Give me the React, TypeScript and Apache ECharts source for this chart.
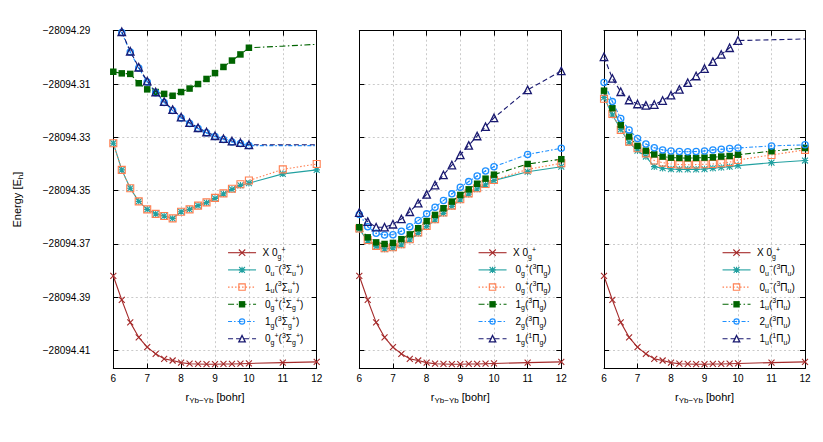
import React, { useEffect, useRef } from 'react';
import * as echarts from 'echarts';

// ---------------- data ----------------
const R_BOHR = [6, 6.25, 6.5, 6.75, 7, 7.25, 7.5, 7.75, 8, 8.25, 8.5, 8.75, 9, 9.25, 9.5, 9.75, 10, 11, 12];
const X_MIN = 6;
const X_MAX = 12;
const X_STEP = 1;
const E_TOP = -28094.29;
const E_BOTTOM = -28094.4167;
const E_STEP = 0.02;
const E_REF = -28094;

// ground state, shown in all three panels
const X_0g = [-28094.3820, -28094.3910, -28094.3994, -28094.4050, -28094.4087, -28094.4112, -28094.4131, -28094.4137, -28094.4145, -28094.4149, -28094.4150, -28094.4151, -28094.4151, -28094.4150, -28094.4150, -28094.4149, -28094.4148, -28094.4145, -28094.4142];

// panel 1 : Sigma states
const S_0u_3Su = [-28094.3322, -28094.3422, -28094.3491, -28094.3540, -28094.3570, -28094.3587, -28094.3595, -28094.3604, -28094.3579, -28094.3570, -28094.3556, -28094.3545, -28094.3529, -28094.3512, -28094.3495, -28094.3480, -28094.3472, -28094.3437, -28094.3422];
const S_1u_3Su = [-28094.3322, -28094.3422, -28094.3491, -28094.3540, -28094.3570, -28094.3587, -28094.3595, -28094.3604, -28094.3579, -28094.3570, -28094.3556, -28094.3544, -28094.3527, -28094.3510, -28094.3493, -28094.3476, -28094.3462, -28094.3420, -28094.3400];
const S_0g_1Sg = [-28094.3054, -28094.3060, -28094.3062, -28094.3097, -28094.3120, -28094.3130, -28094.3137, -28094.3144, -28094.3130, -28094.3117, -28094.3100, -28094.3081, -28094.3059, -28094.3036, -28094.3012, -28094.2989, -28094.2964, -28094.2958, -28094.2951];
const S_1g_3Sg = [null, -28094.2907, -28094.2980, -28094.3040, -28094.3092, -28094.3133, -28094.3169, -28094.3199, -28094.3227, -28094.3248, -28094.3267, -28094.3283, -28094.3297, -28094.3308, -28094.3317, -28094.3323, -28094.3331, -28094.3331, -28094.3331];
const S_0g_3Sg = [null, -28094.2904, -28094.2977, -28094.3037, -28094.3089, -28094.3130, -28094.3166, -28094.3196, -28094.3224, -28094.3245, -28094.3264, -28094.3280, -28094.3294, -28094.3305, -28094.3314, -28094.3320, -28094.3328, -28094.3328, -28094.3328];

// panel 2 : Pi_g states
const G_0g_3Pg_a = [-28094.3645, -28094.3688, -28094.3710, -28094.3719, -28094.3715, -28094.3704, -28094.3685, -28094.3660, -28094.3635, -28094.3610, -28094.3585, -28094.3559, -28094.3535, -28094.3513, -28094.3494, -28094.3478, -28094.3462, -28094.3429, -28094.3410];
const G_0g_3Pg_b = [-28094.3642, -28094.3685, -28094.3707, -28094.3716, -28094.3712, -28094.3701, -28094.3682, -28094.3657, -28094.3632, -28094.3607, -28094.3582, -28094.3556, -28094.3532, -28094.3510, -28094.3491, -28094.3475, -28094.3460, -28094.3420, -28094.3397];
const G_1g_3Pg = [-28094.3637, -28094.3675, -28094.3694, -28094.3700, -28094.3696, -28094.3682, -28094.3664, -28094.3641, -28094.3614, -28094.3591, -28094.3566, -28094.3541, -28094.3516, -28094.3495, -28094.3474, -28094.3455, -28094.3440, -28094.3400, -28094.3382];
const G_2g_3Pg = [-28094.3589, -28094.3635, -28094.3660, -28094.3666, -28094.3665, -28094.3652, -28094.3635, -28094.3612, -28094.3587, -28094.3562, -28094.3537, -28094.3512, -28094.3487, -28094.3466, -28094.3445, -28094.3426, -28094.3410, -28094.3364, -28094.3341];
const G_1g_1Pg = [-28094.3582, -28094.3616, -28094.3637, -28094.3637, -28094.3626, -28094.3606, -28094.3579, -28094.3547, -28094.3514, -28094.3479, -28094.3441, -28094.3404, -28094.3366, -28094.3330, -28094.3295, -28094.3260, -28094.3227, -28094.3122, -28094.3051];

// panel 3 : Pi_u states
const U_0u_3Pu_a = [-28094.3150, -28094.3216, -28094.3270, -28094.3320, -28094.3350, -28094.3372, -28094.3410, -28094.3416, -28094.3419, -28094.3420, -28094.3420, -28094.3420, -28094.3419, -28094.3416, -28094.3413, -28094.3410, -28094.3406, -28094.3395, -28094.3387];
const U_0u_3Pu_b = [-28094.3155, -28094.3212, -28094.3272, -28094.3316, -28094.3341, -28094.3360, -28094.3387, -28094.3395, -28094.3400, -28094.3402, -28094.3403, -28094.3402, -28094.3401, -28094.3400, -28094.3397, -28094.3393, -28094.3385, -28094.3366, -28094.3347];
const U_1u_3Pu = [-28094.3125, -28094.3191, -28094.3254, -28094.3297, -28094.3332, -28094.3350, -28094.3364, -28094.3372, -28094.3376, -28094.3377, -28094.3378, -28094.3377, -28094.3376, -28094.3375, -28094.3372, -28094.3370, -28094.3365, -28094.3352, -28094.3340];
const U_2u_3Pu = [-28094.3094, -28094.3166, -28094.3229, -28094.3272, -28094.3304, -28094.3325, -28094.3339, -28094.3347, -28094.3351, -28094.3353, -28094.3354, -28094.3353, -28094.3351, -28094.3347, -28094.3345, -28094.3342, -28094.3340, -28094.3332, -28094.3328];
const U_1u_1Pu = [-28094.2998, -28094.3079, -28094.3129, -28094.3160, -28094.3175, -28094.3180, -28094.3177, -28094.3162, -28094.3142, -28094.3120, -28094.3095, -28094.3070, -28094.3042, -28094.3016, -28094.2989, -28094.2964, -28094.2937, -28094.2934, -28094.2931];

// number of leading points drawn with markers (rest drawn as plain line)
const MARKED_UNTIL_10 = 17;

// ---------------- styles ----------------
const FONT = "'Liberation Sans', Arial, Helvetica, sans-serif";
const RED = '#a52a2a';
const TEAL = '#21a0a0';
const CORAL = '#ff7f50';
const GREEN = '#006400';
const BLUE = '#1e90ff';
const NAVY = '#191970';
const LINE_W = 1.1;

const CROSS = 'path://M0,0L10,10M10,0L0,10';
const STAR = 'path://M0,0L10,10M10,0L0,10M5,-0.5L5,10.5M-0.5,5L10.5,5';
const CIRCLE_DOT = 'path://M10,5A5,5,0,1,1,0,5A5,5,0,1,1,10,5ZM8.3,5A3.3,3.3,0,1,0,1.7,5A3.3,3.3,0,1,0,8.3,5ZM6.1,5A1.1,1.1,0,1,1,3.9,5A1.1,1.1,0,1,1,6.1,5Z';

const STY: Record<string, any> = {
  X: { color: RED, fill: RED, symbol: CROSS, size: 6, dash: 'solid', bw: 1.1 },
  A: { color: TEAL, fill: TEAL, symbol: STAR, size: 6.5, dash: 'solid', bw: 1.1 },
  B: { color: CORAL, fill: 'rgba(0,0,0,0)', symbol: 'rect', size: 7, dash: [1.5, 2], bw: 1.1 },
  C: { color: GREEN, fill: GREEN, symbol: 'rect', size: 6.5, dash: [6, 2.5, 1.5, 2.5], bw: 0 },
  D: { color: BLUE, fill: BLUE, symbol: CIRCLE_DOT, size: 7.5, dash: [4, 2, 1.5, 2], bw: 0 },
  E: { color: NAVY, fill: 'rgba(0,0,0,0)', symbol: 'triangle', size: 7.5, dash: [5, 3], bw: 1.3 },
};

const n = (t: string) => `{n|${t}}`;
const b = (t: string) => `{b|${t}}`;
const p = (t: string) => `{p|${t}}`;
const SP = '{s| }';
const SP1 = '{s1| }';

const L_X = SP1 + n('X 0') + b('g') + p('+');
const state = (o: string, os: string, osp: string, m: string, L: string, ls: string, lsp: string) =>
  SP + n(o) + b(os) + (osp ? p(osp) : '') + n('(') + p(m) + n(L) + b(ls) + (lsp ? p(lsp) : '') + n(')');

const PANELS = [
  {
    series: [
      { id: 'p1x', data: X_0g, sty: 'X', label: L_X },
      { id: 'p1a', data: S_0u_3Su, sty: 'A', label: state('0', 'u', '−', '3', 'Σ', 'u', '+') },
      { id: 'p1b', data: S_1u_3Su, sty: 'B', label: state('1', 'u', '', '3', 'Σ', 'u', '+') },
      { id: 'p1c', data: S_0g_1Sg, sty: 'C', label: state('0', 'g', '+', '1', 'Σ', 'g', '+'), marked: MARKED_UNTIL_10 },
      { id: 'p1d', data: S_1g_3Sg, sty: 'D', label: state('1', 'g', '', '3', 'Σ', 'g', '+'), marked: MARKED_UNTIL_10 },
      { id: 'p1e', data: S_0g_3Sg, sty: 'E', label: state('0', 'g', '+', '3', 'Σ', 'g', '+'), marked: MARKED_UNTIL_10 },
    ],
  },
  {
    series: [
      { id: 'p2x', data: X_0g, sty: 'X', label: L_X },
      { id: 'p2a', data: G_0g_3Pg_a, sty: 'A', label: state('0', 'g', '+', '3', 'Π', 'g', '') },
      { id: 'p2b', data: G_0g_3Pg_b, sty: 'B', label: state('0', 'g', '+', '3', 'Π', 'g', '') },
      { id: 'p2c', data: G_1g_3Pg, sty: 'C', label: state('1', 'g', '', '3', 'Π', 'g', '') },
      { id: 'p2d', data: G_2g_3Pg, sty: 'D', label: state('2', 'g', '', '3', 'Π', 'g', '') },
      { id: 'p2e', data: G_1g_1Pg, sty: 'E', label: state('1', 'g', '', '1', 'Π', 'g', '') },
    ],
  },
  {
    series: [
      { id: 'p3x', data: X_0g, sty: 'X', label: L_X },
      { id: 'p3a', data: U_0u_3Pu_a, sty: 'A', label: state('0', 'u', '−', '3', 'Π', 'u', '') },
      { id: 'p3b', data: U_0u_3Pu_b, sty: 'B', label: state('0', 'u', '−', '3', 'Π', 'u', '') },
      { id: 'p3c', data: U_1u_3Pu, sty: 'C', label: state('1', 'u', '', '3', 'Π', 'u', '') },
      { id: 'p3d', data: U_2u_3Pu, sty: 'D', label: state('2', 'u', '', '3', 'Π', 'u', '') },
      { id: 'p3e', data: U_1u_1Pu, sty: 'E', label: state('1', 'u', '', '1', 'Π', 'u', ''), marked: MARKED_UNTIL_10 },
    ],
  },
];

// layout
const GRID_TOP = 30.7;
const GRID_H = 337.8;
const GRIDS = [
  { left: 113.3, width: 203.4, legendLeft: 227.5 },
  { left: 359.3, width: 202, legendLeft: 478 },
  { left: 604, width: 201, legendLeft: 722 },
];
const LEGEND_TOP = 245.7;

const toY = (e: number) => Math.round(-(e - E_REF) * 1e6) / 1e6;
const fmtE = (v: number) => '−' + Math.abs(E_REF - v).toFixed(2);

const RICH = {
  n: { fontSize: 10, lineHeight: 14, fontFamily: FONT, color: '#000' },
  b: { fontSize: 7, lineHeight: 7, verticalAlign: 'bottom', fontFamily: FONT, color: '#000' },
  p: { fontSize: 7, lineHeight: 7, verticalAlign: 'top', fontFamily: FONT, color: '#000' },
  s: { width: 4, fontSize: 10, lineHeight: 14 },
  s1: { width: 1.5, fontSize: 10, lineHeight: 14 },
};
const TITLE_RICH = {
  n: { fontSize: 11, lineHeight: 15, fontFamily: FONT, fill: '#000' },
  b: { fontSize: 8, lineHeight: 8, verticalAlign: 'bottom', fontFamily: FONT, fill: '#000' },
};

function buildOption() {
  const yMin = toY(E_TOP);
  const yMax = toY(E_BOTTOM);
  const grid: any[] = [];
  const xAxis: any[] = [];
  const yAxis: any[] = [];
  const series: any[] = [];
  const legend: any[] = [];
  const graphic: any[] = [];
  const axisLine = { show: true, onZero: false, lineStyle: { color: '#000', width: 1 } };
  const axisTick = { show: true, inside: true, length: 5, lineStyle: { color: '#000', width: 1 } };
  const splitLine = { show: true, lineStyle: { color: '#bdbdbd', width: 0.8, type: [2, 2.5] } };

  GRIDS.forEach((g, gi) => {
    grid.push({ left: g.left, top: GRID_TOP, width: g.width, height: GRID_H });
    xAxis.push({
      gridIndex: gi, type: 'value', min: X_MIN, max: X_MAX, interval: X_STEP, position: 'bottom',
      axisLine, axisTick,
      axisLabel: { show: true, margin: 5, fontSize: 10, color: '#000', fontFamily: FONT },
      splitLine,
    });
    xAxis.push({
      gridIndex: gi, type: 'value', min: X_MIN, max: X_MAX, interval: X_STEP, position: 'top',
      axisLine, axisTick, axisLabel: { show: false }, splitLine: { show: false },
    });
    yAxis.push({
      gridIndex: gi, type: 'value', min: yMin, max: yMax, interval: E_STEP, inverse: true, position: 'left',
      axisLine, axisTick,
      axisLabel: {
        show: gi === 0, margin: 23, fontSize: 10, color: '#000', fontFamily: FONT,
        showMaxLabel: false, showMinLabel: true, formatter: (v: number) => fmtE(v),
      },
      splitLine,
    });
    yAxis.push({
      gridIndex: gi, type: 'value', min: yMin, max: yMax, interval: E_STEP, inverse: true, position: 'right',
      axisLine, axisTick, axisLabel: { show: false }, splitLine: { show: false },
    });

    const panel = PANELS[gi];
    const labelMap: Record<string, string> = {};
    const legendData: any[] = [];
    panel.series.forEach((s: any) => {
      const st = STY[s.sty];
      const data: any[] = [];
      R_BOHR.forEach((r, i) => {
        const e = s.data[i];
        if (e == null) return;
        const item: any = { value: [r, toY(e)] };
        if (s.marked != null && i >= s.marked) item.symbol = 'none';
        data.push(item);
      });
      series.push({
        type: 'line', name: s.id, xAxisIndex: gi * 2, yAxisIndex: gi * 2, data,
        symbol: st.symbol, symbolSize: st.size, showAllSymbol: true, silent: true,
        itemStyle: { color: st.fill, borderColor: st.color, borderWidth: st.bw },
        lineStyle: { color: st.color, width: LINE_W, type: st.dash },
        emphasis: { disabled: true },
      });
      labelMap[s.id] = s.label;
      legendData.push({
        name: s.id,
        itemStyle: { color: st.fill, borderColor: st.color, borderWidth: st.bw },
        lineStyle: { color: st.color, width: LINE_W, type: st.dash },
      });
    });
    legend.push({
      show: true, orient: 'vertical', left: g.legendLeft, top: LEGEND_TOP, padding: 0,
      itemWidth: 28, itemHeight: 8, itemGap: 3.2, selectedMode: false,
      data: legendData,
      formatter: (name: string) => labelMap[name],
      textStyle: { fontSize: 10, color: '#000', fontFamily: FONT, rich: RICH },
    });

    graphic.push({
      type: 'text', x: g.left + g.width / 2, y: 396.5, silent: true,
      style: {
        text: '{n|r}{b|Yb−Yb}{n| [bohr]}', rich: TITLE_RICH, fill: '#000',
        align: 'center', verticalAlign: 'middle', fontFamily: FONT, fontSize: 11,
      },
    });
  });

  graphic.push({
    type: 'text', x: 16.7, y: GRID_TOP + GRID_H / 2, rotation: Math.PI / 2, silent: true,
    style: {
      text: '{n|Energy [E}{b|h}{n|]}', rich: TITLE_RICH, fill: '#000',
      align: 'center', verticalAlign: 'middle', fontFamily: FONT, fontSize: 11,
    },
  });

  return {
    animation: false,
    backgroundColor: '#fff',
    grid, xAxis, yAxis, series, legend, graphic,
  };
}

export default function App() {
  const ref = useRef<HTMLDivElement>(null);
  useEffect(() => {
    if (!ref.current) return;
    const chart = echarts.init(ref.current, null, { renderer: 'svg' });
    chart.setOption(buildOption() as any);
    return () => chart.dispose();
  }, []);
  return (
    <div
      ref={ref}
      style={{ position: 'absolute', left: 0, top: 0, width: 823, height: 442, background: '#fff' }}
    />
  );
}
